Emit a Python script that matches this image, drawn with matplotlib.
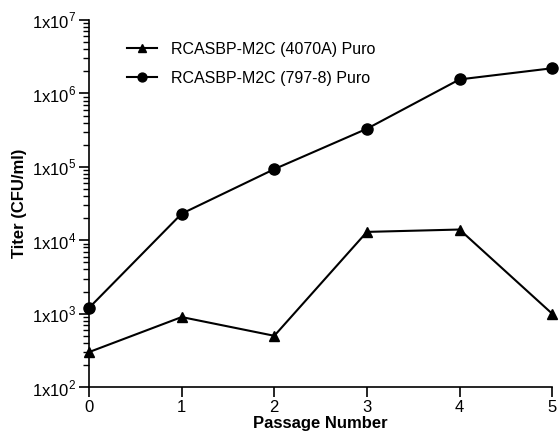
import matplotlib
matplotlib.use("Agg")
import matplotlib.pyplot as plt
import numpy as np
from matplotlib.ticker import LogLocator, FuncFormatter, NullFormatter

plt.rcParams['font.family'] = ['Liberation Sans', 'DejaVu Sans']
plt.rcParams['mathtext.fontset'] = 'custom'
plt.rcParams['mathtext.rm'] = 'Liberation Sans'

# data
passage = [0, 1, 2, 3, 4, 5]
titer_4070A = [300, 900, 500, 1.3e4, 1.4e4, 1.0e3]
titer_797 = [1.2e3, 2.3e4, 9.3e4, 3.3e5, 1.55e6, 2.2e6]
label_4070A = 'RCASBP-M2C (4070A) Puro'
label_797 = 'RCASBP-M2C (797-8) Puro'

fig = plt.figure(figsize=(5.6, 4.34), dpi=100)
ax = fig.add_axes([0.159, 0.108, 0.827, 0.846])

ax.plot(passage, titer_4070A, 'k^-', lw=1.5, ms=7.5, label=label_4070A, clip_on=False, zorder=3)
ax.plot(passage, titer_797, 'ko-', lw=1.5, ms=8, label=label_797, clip_on=False, zorder=3)

ax.set_yscale('log')
ax.set_ylim(1e2, 1e7)
ax.set_xlim(0, 5)
ax.set_xticks(passage)

ax.yaxis.set_major_locator(LogLocator(base=10))
ax.yaxis.set_minor_locator(LogLocator(base=10, subs=np.arange(2, 10)))
ax.yaxis.set_major_formatter(FuncFormatter(lambda v, p: r'1x10$^{%d}$' % round(np.log10(v))))
ax.yaxis.set_minor_formatter(NullFormatter())

for s in ['top', 'right']:
    ax.spines[s].set_visible(False)
ax.spines['left'].set_linewidth(1.2)
ax.spines['bottom'].set_linewidth(1.2)
ax.tick_params(axis='both', which='major', direction='out', length=7, width=1.2, labelsize=12, pad=2)
ax.tick_params(axis='y', which='minor', direction='out', length=4, width=1)

ax.set_xlabel('Passage Number', fontsize=12, fontweight='bold', labelpad=1)
ax.set_ylabel('Titer (CFU/ml)', fontsize=12, fontweight='bold', labelpad=4)

ax.legend(loc='upper left', bbox_to_anchor=(0.05, 0.98), frameon=False, fontsize=11.5,
          handlelength=1.9, handletextpad=0.9, labelspacing=0.9, markerscale=0.8)

fig.savefig('out.png', dpi=100)
